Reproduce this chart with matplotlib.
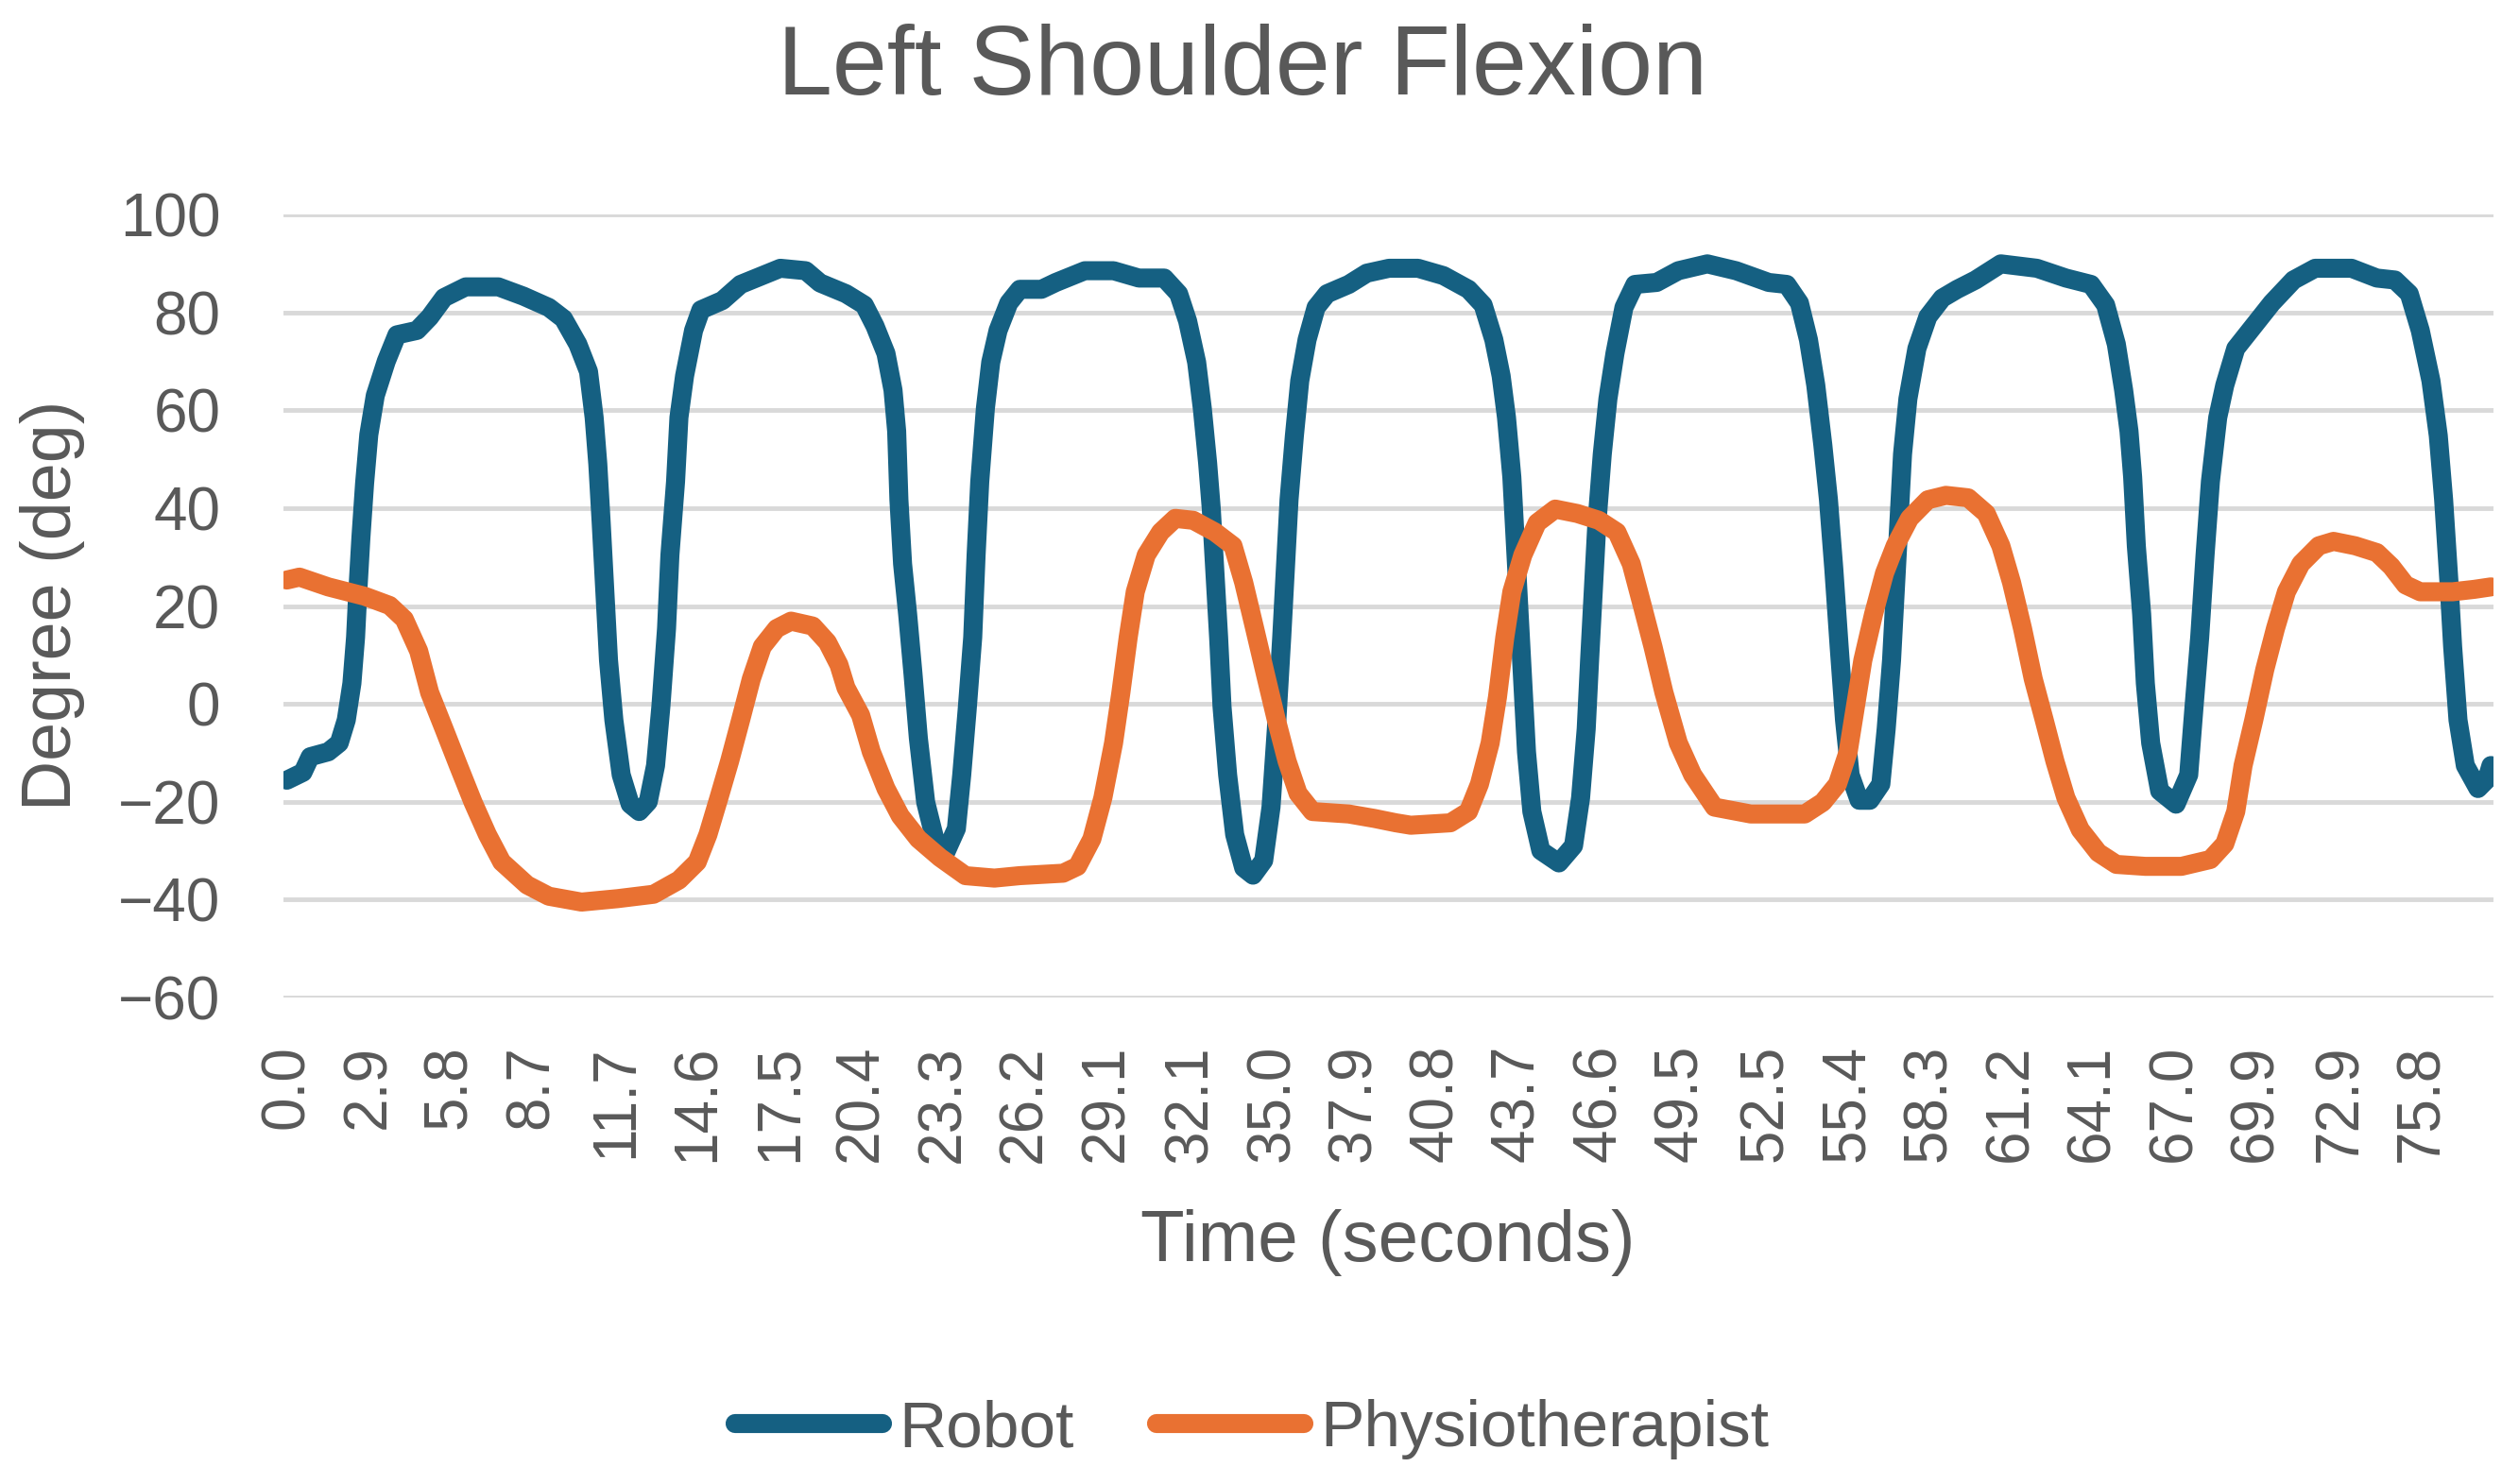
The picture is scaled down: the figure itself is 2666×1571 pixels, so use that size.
import numpy as np
import matplotlib
matplotlib.use("Agg")
import matplotlib.pyplot as plt

plt.rcParams['font.family'] = ['Liberation Sans', 'DejaVu Sans']

title = "Left Shoulder Flexion"
x_label = "Time (seconds)"
y_label = "Degree (deg)"
series_names = ["Robot", "Physiotherapist"]

x_tick_labels = ["0.0", "2.9", "5.8", "8.7", "11.7", "14.6", "17.5", "20.4", "23.3",
                 "26.2", "29.1", "32.1", "35.0", "37.9", "40.8", "43.7", "46.6", "49.5",
                 "52.5", "55.4", "58.3", "61.2", "64.1", "67.0", "69.9", "72.9", "75.8"]
y_ticks = [-60, -40, -20, 0, 20, 40, 60, 80, 100]

robot_t = [0.0, 0.57, 0.83, 1.47, 1.86, 2.11, 2.31, 2.44, 2.52, 2.63, 2.76, 2.91, 3.14, 3.53,
           3.91, 4.62, 5.07, 5.58, 6.35, 7.51, 8.40, 9.30, 9.82, 10.33, 10.71, 10.91, 11.04,
           11.16, 11.29, 11.42, 11.61, 11.87, 12.19, 12.51, 12.83, 13.09, 13.28, 13.48, 13.60,
           13.80, 13.92, 14.12, 14.44, 14.70, 15.46, 16.11, 17.52, 18.42, 18.93,
           19.85, 20.50, 20.88, 21.27, 21.52, 21.65, 21.73, 21.86, 22.04, 22.23, 22.42, 22.68,
           23.00, 23.38, 23.77, 23.96, 24.15, 24.35, 24.47, 24.60, 24.80, 24.99, 25.25, 25.63,
           26.02, 26.79, 27.30, 28.33, 29.35, 30.25, 31.15, 31.66, 31.98, 32.30, 32.50, 32.69,
           32.82, 32.95, 33.08, 33.20, 33.40, 33.65, 33.97, 34.30, 34.68, 34.94, 35.13, 35.32,
           35.45, 35.58, 35.77, 35.96, 36.22, 36.54, 36.93, 37.70, 38.34,
           39.13, 40.16, 41.06, 41.95, 42.47, 42.85, 43.11, 43.30, 43.49, 43.62, 43.75, 43.88,
           44.01, 44.20, 44.52, 45.16, 45.68, 45.93, 46.13, 46.25, 46.38, 46.51, 46.70, 46.90,
           47.15, 47.47, 47.86, 48.63, 49.40, 50.43, 51.45, 52.61, 53.25, 53.70, 54.02, 54.28,
           54.53, 54.73, 54.92, 55.11, 55.30, 55.50, 55.82, 56.20, 56.59, 56.78, 56.97, 57.10,
           57.23, 57.36, 57.55, 57.87, 58.26, 58.77,
           59.30, 59.95, 60.85, 62.13, 63.16, 64.05, 64.57, 64.95, 65.21, 65.40, 65.53, 65.66,
           65.85, 65.98, 66.17, 66.49, 67.07, 67.52, 67.71, 67.91, 68.10, 68.29, 68.55, 68.80,
           69.19, 69.70, 70.47, 71.24, 72.01, 73.30, 74.20, 74.84, 75.35, 75.74, 76.12, 76.38,
           76.57, 76.76, 76.89, 77.08, 77.34, 77.79, 78.10, 78.25]
robot_deg = [-15.6, -14.0, -10.8, -9.8, -8.0, -3.3, 4.2, 13.6, 23.0, 34.0, 45.0, 55.0, 63.0, 70.0,
             75.4, 76.3, 79.0, 83.0, 85.2, 85.2, 83.3, 81.0, 78.7, 73.5, 67.9, 58.5, 49.0,
             37.0, 23.0, 8.9, -3.3, -14.5, -20.5, -22.0, -20.0, -12.6, -0.5, 15.4, 30.4,
             45.4, 58.5, 67.0, 76.3, 80.5, 82.4, 85.7, 89.0, 88.5, 86.0,
             83.8, 81.5, 77.2, 71.6, 64.1, 55.7, 41.7, 28.6, 18.3, 6.1, -7.0, -20.1,
             -27.5, -30.5, -25.5, -14.5, -1.4, 13.6, 30.4, 45.4, 60.4, 69.8, 76.3, 81.9,
             84.7, 84.7, 86.1, 88.5, 88.5, 87.0, 87.0, 83.8, 78.2, 69.8, 60.4, 49.2,
             39.8, 26.7, 13.6, -0.5, -14.5, -26.7, -33.5, -35.0, -32.0, -21.1, -5.1, 13.6,
             27.6, 41.7, 54.8, 66.0, 74.4, 81.0, 83.8, 85.7, 88.0,
             89.0, 89.0, 87.5, 84.7, 81.5, 74.4, 67.0, 58.5, 46.3, 32.3, 18.3, 4.2,
             -9.8, -22.0, -30.0, -32.5, -29.0, -19.2, -5.1, 8.9, 22.9, 37.0, 51.0, 62.3,
             71.6, 81.0, 85.7, 86.1, 88.5, 89.9, 88.5, 86.1, 85.7, 81.9, 74.4, 65.1,
             52.9, 41.7, 27.6, 11.7, -3.3, -14.5, -19.7, -19.7, -16.4, -5.1, 8.9, 22.9,
             37.0, 51.0, 62.3, 72.6, 79.1, 82.9,
             84.7, 86.6, 89.9, 89.0, 87.0, 85.7, 81.5, 73.5, 64.1, 55.7, 46.3, 32.3,
             18.3, 4.2, -8.0, -17.8, -20.5, -14.5, -0.5, 13.6, 30.4, 45.4, 58.5, 65.1,
             72.6, 76.3, 81.9, 86.6, 89.0, 89.0, 87.0, 86.6, 83.8, 76.3, 66.0, 54.8,
             41.7, 24.8, 11.7, -3.3, -12.6, -17.3, -15.5, -12.6]

physio_t = [0.0, 0.45, 1.47, 2.76, 3.65, 4.17, 4.68, 5.07, 5.58, 6.09, 6.61, 7.12, 7.63, 8.53,
            9.30, 10.46, 11.74, 13.02, 13.92, 14.57, 14.95, 15.34, 15.72, 16.11, 16.49, 16.88,
            17.39, 17.90, 18.67, 19.19, 19.60, 19.85, 20.37, 20.75, 21.27, 21.78, 22.42, 23.19,
            24.09, 25.12, 26.02, 27.56, 28.07, 28.58, 28.97, 29.35, 29.61, 29.87, 30.12, 30.51,
            31.02, 31.54, 32.18, 32.95, 33.59, 33.97, 34.36, 34.74, 35.13, 35.51, 35.90, 36.41,
            37.70, 38.60, 39.37, 39.90, 41.31, 41.95, 42.34, 42.72, 42.98, 43.24, 43.49, 43.88,
            44.39, 45.03, 45.81, 46.58, 47.22, 47.73, 48.12, 48.50, 48.89, 49.40, 49.91, 50.68,
            51.97, 53.89, 54.53, 55.05, 55.43, 55.69, 55.95, 56.33, 56.72, 57.10, 57.61, 58.26,
            58.90, 59.69, 60.33, 60.85, 61.23, 61.62, 62.00, 62.39, 62.77, 63.16, 63.67, 64.31,
            64.95, 65.98, 67.26, 68.29, 68.80, 69.19, 69.45, 69.83, 70.22, 70.60, 70.99, 71.50,
            72.14, 72.66, 73.43, 74.20, 74.71, 75.22, 75.74, 76.89, 77.66, 78.25]
physio_deg = [25.3, 25.9, 23.9, 22.0, 20.1, 17.3, 10.8, 2.3, -5.1, -12.6, -20.1, -26.7, -32.3, -37.0,
              -39.3, -40.5, -39.8, -38.9, -36.0, -32.3, -26.7, -19.2, -11.7, -3.3, 5.1, 11.7,
              15.4, 16.9, 15.9, 12.6, 8.0, 3.3, -2.3, -9.8, -17.3, -22.9, -27.6, -31.4,
              -35.1, -35.6, -35.1, -34.6, -33.2, -27.6, -19.2, -8.0, 2.3, 13.6, 22.9, 30.4,
              35.1, 37.9, 37.5, 35.1, 32.3, 24.8, 15.4, 6.1, -3.3, -11.7, -18.3, -22.0,
              -22.5, -23.4, -24.3, -24.8, -24.3, -22.0, -16.4, -8.0, 1.4, 13.6, 22.9, 30.4,
              37.0, 39.8, 38.9, 37.5, 35.1, 28.6, 20.1, 11.7, 2.3, -8.0, -14.5, -21.1,
              -22.5, -22.5, -20.1, -16.4, -9.8, -0.5, 8.9, 18.3, 26.7, 32.3, 37.9, 41.7,
              42.6, 42.1, 38.9, 32.3, 24.8, 15.4, 5.1, -3.3, -11.7, -19.2, -25.7, -30.4,
              -32.8, -33.2, -33.2, -31.8, -28.6, -22.0, -12.6, -3.3, 7.0, 15.4, 22.9, 28.6,
              32.3, 33.2, 32.3, 30.9, 28.1, 24.3, 22.9, 22.9, 23.4, 23.9]

TEXT = '#595959'
BLUE = '#156082'
ORANGE = '#E97132'
GRID = '#D9D9D9'

W, H = 2666, 1571
fig = plt.figure(figsize=(W / 100, H / 100), dpi=100)
ax = fig.add_axes([300 / W, 1 - 1056 / H, (2639 - 300) / W, (1056 - 227) / H])

ax.plot(robot_t, robot_deg, color=BLUE, lw=14.5, solid_joinstyle='round',
        solid_capstyle='round', label=series_names[0], zorder=3)
ax.plot(physio_t, physio_deg, color=ORANGE, lw=14.5, solid_joinstyle='round',
        solid_capstyle='round', label=series_names[1], zorder=4)

ax.set_xlim(-0.12, 78.34)
ax.set_ylim(-60, 100)
ax.set_yticks(y_ticks)
ax.set_yticklabels([f"{v}".replace('-', '\u2212') for v in y_ticks])
ax.set_xticks([float(s) for s in x_tick_labels])
ax.set_xticklabels(x_tick_labels, rotation=90)
ax.tick_params(axis='y', length=0, pad=48, labelsize=46, labelcolor=TEXT)
ax.tick_params(axis='x', length=0, pad=36, labelsize=46, labelcolor=TEXT)
ax.yaxis.grid(True, color=GRID, linewidth=3.5)
ax.xaxis.grid(False)
ax.set_axisbelow(True)
for s in ax.spines.values():
    s.set_visible(False)

fig.text(1315 / W, 1 - 100 / H, title, ha='center', va='baseline', fontsize=75, color=TEXT)
fig.text(1469 / W, 1 - 1335 / H, x_label, ha='center', va='baseline', fontsize=55, color=TEXT)
fig.text(56 / W, 1 - 641 / H, y_label, ha='center', va='center', rotation=90, fontsize=53,
         color=TEXT)

fig.legend(loc='center', bbox_to_anchor=(1325 / W, 1 - 1513 / H), ncol=2, frameon=False,
           fontsize=50, handlelength=2.25, handletextpad=0.25, columnspacing=1.25,
           labelcolor=TEXT)

fig.savefig("out.png", dpi=100)
